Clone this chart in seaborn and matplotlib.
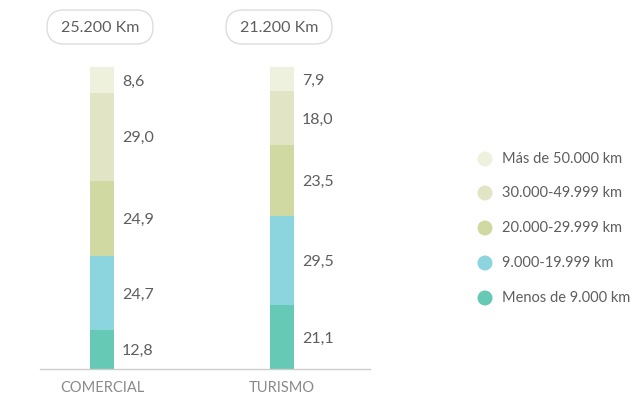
import matplotlib
matplotlib.use("Agg")
import matplotlib.pyplot as plt
from matplotlib.patches import FancyBboxPatch, Ellipse
from matplotlib.transforms import IdentityTransform
import seaborn as sns
import numpy as np
import pandas as pd

categories = ["COMERCIAL", "TURISMO"]
totals = ["25.200 Km", "21.200 Km"]
series = ["Menos de 9.000 km", "9.000-19.999 km", "20.000-29.999 km",
          "30.000-49.999 km", "Más de 50.000 km"]
comercial = [12.8, 24.7, 24.9, 29.0, 8.6]
turismo = [21.1, 29.5, 23.5, 18.0, 7.9]
colors = ["#66c9b5", "#8dd5de", "#d1d9a2", "#e1e5c5", "#eef1de"]

sns.set_theme(style="white")
plt.rcParams["font.family"] = ["Lato", "DejaVu Sans"]
TXT = "#5e5e5e"

W, H = 641, 395
fig = plt.figure(figsize=(W / 100, H / 100), dpi=100)
ax = fig.add_axes([40 / W, (H - 369) / H, 330 / W, 302 / H])

vals = np.array([comercial, turismo])
cum = np.cumsum(vals, axis=1)
for j in range(len(series) - 1, -1, -1):
    df = pd.DataFrame({"cat": categories, "val": cum[:, j]})
    sns.barplot(data=df, x="cat", y="val", color=colors[j], width=24 / 180,
                saturation=1, ax=ax, linewidth=0)

ax.set_ylim(0, 100)
ax.set_xlim(-62 / 180, 1 + 88 / 180)
ax.set_xlabel("")
ax.set_ylabel("")
ax.set_yticks([])
for s in ["top", "right", "left"]:
    ax.spines[s].set_visible(False)
ax.spines["bottom"].set_color("#cccccc")
ax.spines["bottom"].set_linewidth(1)
ax.tick_params(axis="x", length=0, pad=9, labelsize=10.5, labelcolor="#8a8a8a")

for i in range(len(categories)):
    bottoms = np.concatenate([[0], cum[i, :-1]])
    for j in range(len(series)):
        yc = bottoms[j] + vals[i, j] / 2
        ax.text(i + 20 / 180, yc, f"{vals[i, j]:.1f}".replace(".", ","),
                ha="left", va="center_baseline", fontsize=11.5, color=TXT)

pill_x = [47, 226]
for i, t in enumerate(totals):
    x0, w, h = pill_x[i], 106, 34
    y0 = H - 44
    fig.add_artist(FancyBboxPatch((x0, y0), w, h,
                                  boxstyle="round,pad=0,rounding_size=17",
                                  transform=IdentityTransform(),
                                  fc="white", ec="#dddddd", lw=1))
    fig.text((x0 + w / 2) / W, 1 - 28 / H, t, ha="center", va="center",
             fontsize=11.5, color=TXT)

rows_y = [159, 193, 228, 263, 298]
for k, j in enumerate(range(len(series) - 1, -1, -1)):
    y = 1 - rows_y[k] / H
    fig.add_artist(Ellipse((485 / W, y), 15 / W, 15 / H,
                           transform=fig.transFigure, fc=colors[j], ec="none"))
    fig.text(502 / W, y, series[j], ha="left", va="center", fontsize=10.5,
             color=TXT)

fig.savefig("out.png", dpi=100)
